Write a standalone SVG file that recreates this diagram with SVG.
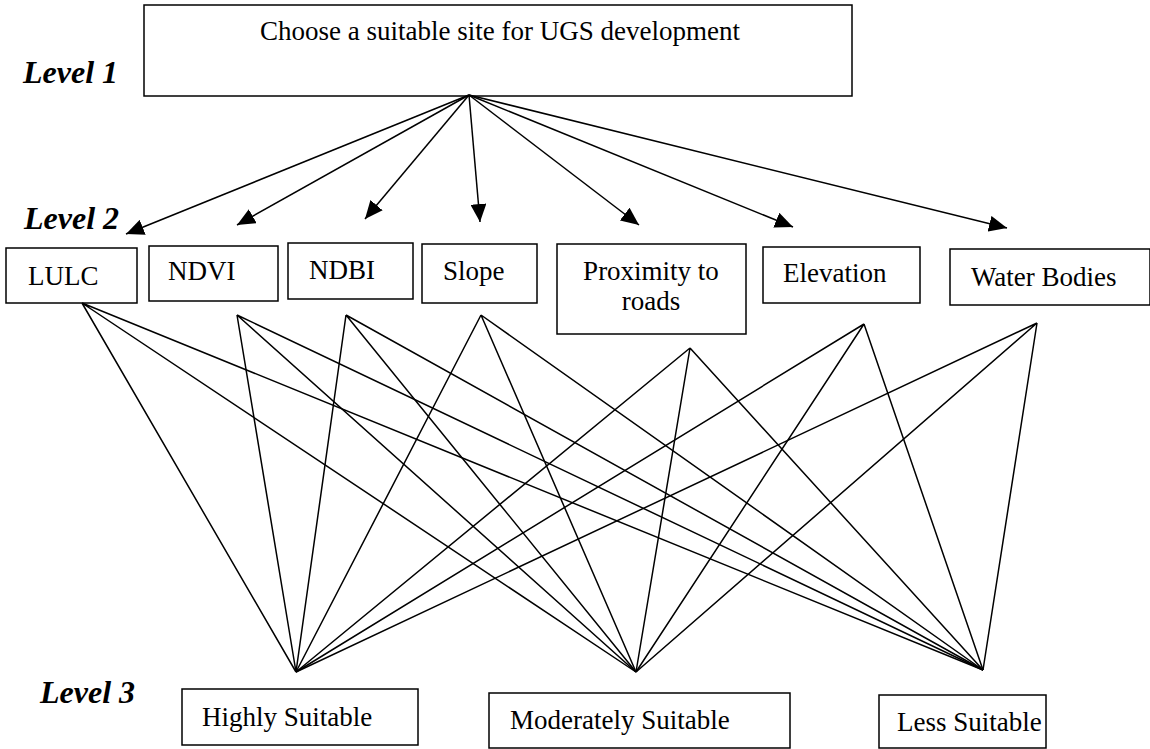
<svg xmlns="http://www.w3.org/2000/svg" width="1150" height="749" viewBox="0 0 1150 749">
<style>
.box{fill:#fff;stroke:#000;stroke-width:1.5}
.t{font-family:"Liberation Serif","Times New Roman",serif;font-size:27px;fill:#000}
.lvl{font-family:"Liberation Serif","Times New Roman",serif;font-size:32px;font-weight:bold;font-style:italic;fill:#000}
.c{stroke:#000;stroke-width:1.5;fill:none}
</style>
<defs>
<marker id="ah" markerWidth="20" markerHeight="16" refX="18" refY="8" orient="auto" markerUnits="userSpaceOnUse">
<path d="M0,0 L18,8 L0,16 Z" fill="#000"/>
</marker>
</defs>
<rect width="1150" height="749" fill="#fff"/>
<text class="lvl" x="23" y="83">Level 1</text>
<text class="lvl" x="24" y="229">Level 2</text>
<text class="lvl" x="40" y="703">Level 3</text>
<g id="goal"><rect class="box" x="144" y="5" width="708" height="91"/><text class="t" x="500" y="40" text-anchor="middle">Choose a suitable site for UGS development</text></g>
<g id="lulc"><rect class="box" x="6" y="248" width="131" height="55"/><text class="t" x="28" y="285">LULC</text></g>
<g id="ndvi"><rect class="box" x="149" y="246" width="129" height="55"/><text class="t" x="168" y="280">NDVI</text></g>
<g id="ndbi"><rect class="box" x="288" y="243" width="125" height="56"/><text class="t" x="309" y="279">NDBI</text></g>
<g id="slope"><rect class="box" x="422" y="244" width="115" height="59"/><text class="t" x="443" y="280">Slope</text></g>
<g id="prox"><rect class="box" x="557" y="244" width="189" height="90"/><text class="t" x="651" y="280" text-anchor="middle">Proximity to</text><text class="t" x="651" y="310" text-anchor="middle">roads</text></g>
<g id="elev"><rect class="box" x="763" y="247" width="157" height="56"/><text class="t" x="783" y="282">Elevation</text></g>
<g id="water"><rect class="box" x="950" y="249" width="200" height="56"/><text class="t" x="971" y="286">Water Bodies</text></g>
<g id="high"><rect class="box" x="182" y="689" width="236" height="56"/><text class="t" x="202" y="726">Highly Suitable</text></g>
<g id="mod"><rect class="box" x="489" y="693" width="301" height="55"/><text class="t" x="510" y="729">Moderately Suitable</text></g>
<g id="less"><rect class="box" x="879" y="695" width="167" height="53"/><text class="t" x="897" y="731">Less Suitable</text></g>
<g id="connectors">
<line class="c" x1="469" y1="95" x2="126" y2="234" marker-end="url(#ah)"/>
<line class="c" x1="469" y1="95" x2="237" y2="225" marker-end="url(#ah)"/>
<line class="c" x1="469" y1="95" x2="365" y2="219" marker-end="url(#ah)"/>
<line class="c" x1="469" y1="95" x2="480" y2="222" marker-end="url(#ah)"/>
<line class="c" x1="469" y1="95" x2="639" y2="225" marker-end="url(#ah)"/>
<line class="c" x1="469" y1="95" x2="793" y2="227" marker-end="url(#ah)"/>
<line class="c" x1="469" y1="95" x2="1007" y2="228" marker-end="url(#ah)"/>
<path class="c" d="M82,303 L296,672 M82,303 L636,672 M82,303 L983,670"/>
<path class="c" d="M237,315 L296,672 M237,315 L636,672 M237,315 L983,670"/>
<path class="c" d="M346,315 L296,672 M346,315 L636,672 M346,315 L983,670"/>
<path class="c" d="M481,315 L296,672 M481,315 L636,672 M481,315 L983,670"/>
<path class="c" d="M690,348 L296,672 M690,348 L636,672 M690,348 L983,670"/>
<path class="c" d="M864,324 L296,672 M864,324 L636,672 M864,324 L983,670"/>
<path class="c" d="M1037,323 L296,672 M1037,323 L636,672 M1037,323 L983,670"/>
</g>
</svg>
